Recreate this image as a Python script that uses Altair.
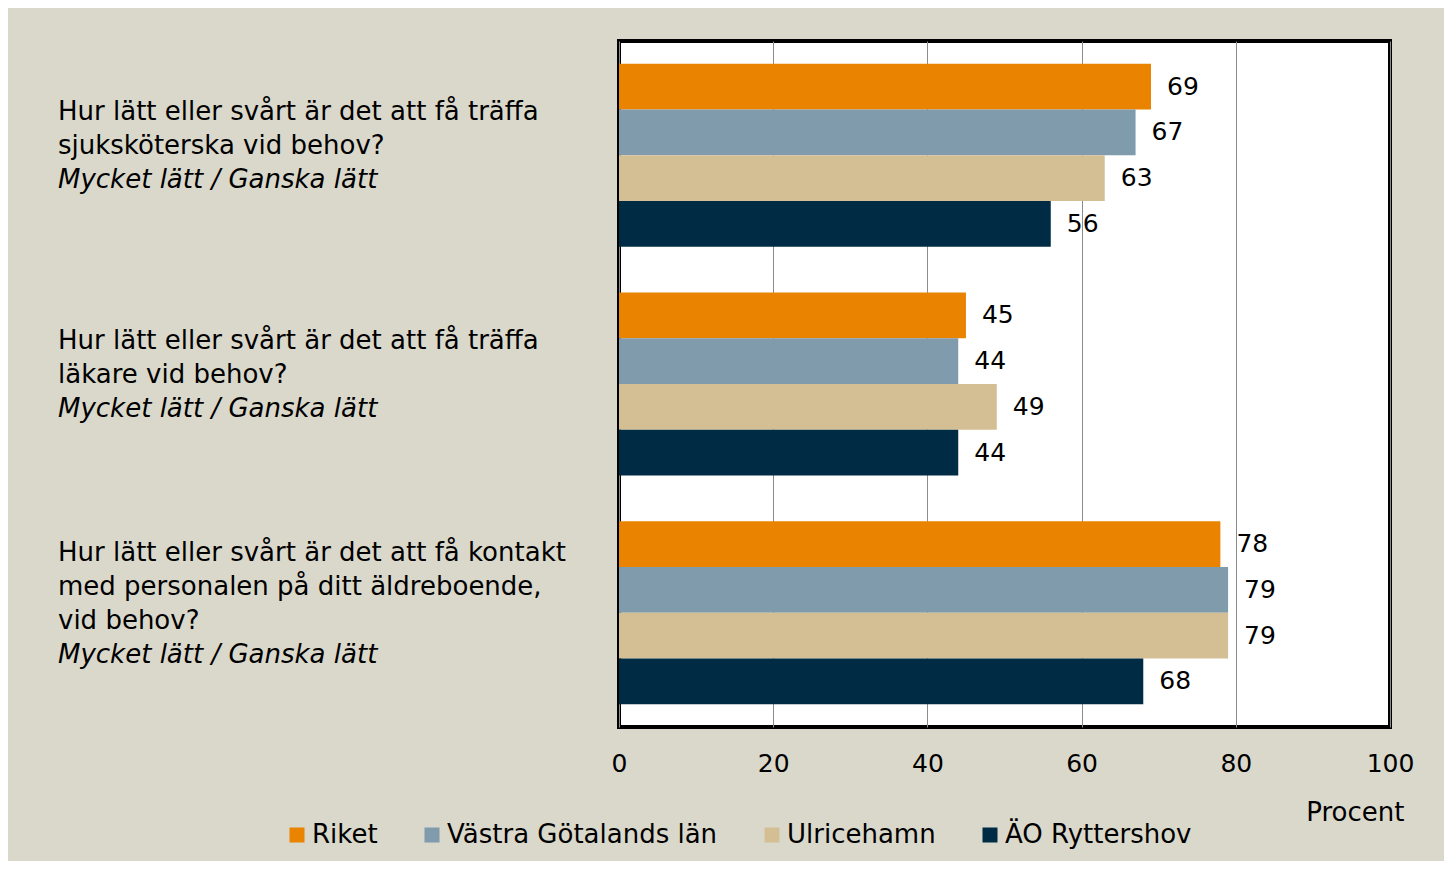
import altair as alt
import pandas as pd

questions = ["q1", "q2", "q3"]
question_lines = [
    ["Hur lätt eller svårt är det att få träffa", "sjuksköterska vid behov?"],
    ["Hur lätt eller svårt är det att få träffa", "läkare vid behov?"],
    ["Hur lätt eller svårt är det att få kontakt", "med personalen på ditt äldreboende,", "vid behov?"],
]
question_note = "Mycket lätt / Ganska lätt"

series = ["Riket", "Västra Götalands län", "Ulricehamn", "ÄO Ryttershov"]
colors = ["#E98300", "#7F9BAC", "#D4BF95", "#002B44"]
riket = [69, 45, 78]
vastra = [67, 44, 79]
ulricehamn = [63, 49, 79]
ryttershov = [56, 44, 68]
x_ticks = [0, 20, 40, 60, 80, 100]

rows = []
for s, vals in zip(series, [riket, vastra, ulricehamn, ryttershov]):
    for q, v in zip(questions, vals):
        rows.append({"question": q, "series": s, "value": v})
bars_df = pd.DataFrame(rows)

# label lines, with their line position relative to the block centre
lab_rows = []
for q, l in zip(questions, question_lines):
    block = l + [question_note]
    n = len(block)
    for i, t in enumerate(block):
        lab_rows.append({"question": q, "pos": i - (n - 1) / 2, "line": t,
                         "italic": i == n - 1})
labels_df = pd.DataFrame(lab_rows)

FONT = "DejaVu Sans"
FS = 26
FS_NUM = 25
W, H = 771, 686
LH = 34

y_scale = alt.Scale(domain=questions, paddingInner=0.2, paddingOuter=0.1)
x_scale = alt.Scale(domain=[0, 100], nice=False)
off_scale = alt.Scale(domain=series, paddingInner=0, paddingOuter=0)

x_enc = alt.X(
    "value:Q", scale=x_scale,
    axis=alt.Axis(values=x_ticks, grid=True, gridColor="#8C8C8C", gridWidth=1,
                  domain=False, ticks=False, labelFontSize=FS_NUM, labelColor="black",
                  labelFlush=False, labelPadding=24, title="Procent", titleFontSize=FS,
                  titleFontWeight="normal", titleColor="black", titleAnchor="end",
                  titleAlign="right", titleX=785, titleY=85, titleBaseline="middle"),
)
y_enc = alt.Y("question:N", scale=y_scale, axis=None)

base = alt.Chart(bars_df)
bars = base.mark_bar().encode(
    x=x_enc,
    y=y_enc,
    yOffset=alt.YOffset("series:N", scale=off_scale),
    color=alt.Color("series:N", scale=alt.Scale(domain=series, range=colors),
                    legend=alt.Legend(orient="none", legendX=-335, legendY=781,
                                      direction="horizontal", columns=4, title=None,
                                      symbolType="square", symbolSize=225,
                                      symbolStrokeWidth=0, labelFontSize=FS,
                                      labelColor="black", labelOffset=2,
                                      labelLimit=0, columnPadding=41)),
)
values = base.mark_text(align="left", baseline="middle", dx=16, fontSize=FS_NUM,
                        color="black").encode(
    x=alt.X("value:Q", scale=x_scale),
    y=y_enc,
    yOffset=alt.YOffset("series:N", scale=off_scale),
    text=alt.Text("value:Q"),
)

lab = alt.Chart(labels_df)
label_layers = []
combos = sorted({(r["pos"], r["italic"]) for r in lab_rows})
for pos, ital in combos:
    label_layers.append(
        lab.transform_filter((alt.datum.pos == pos) & (alt.datum.italic == ital))
        .mark_text(align="left", baseline="middle", fontSize=FS, color="black",
                   dy=-9 + LH * pos, fontStyle="italic" if ital else "normal")
        .encode(x=alt.value(-561), y=y_enc, text="line:N")
    )

chart = alt.layer(bars, values, *label_layers).properties(
    width=W, height=H,
    autosize=alt.AutoSizeParams(type="none"),
    padding={"left": 611, "top": 33, "right": 54, "bottom": 134},
    background="#DAD8CB",
).configure(
    font=FONT,
    view=alt.ViewConfig(stroke="black", strokeWidth=4, fill="white"),
)

chart.save("out.html", embed_options={"renderer": "svg", "actions": False})
